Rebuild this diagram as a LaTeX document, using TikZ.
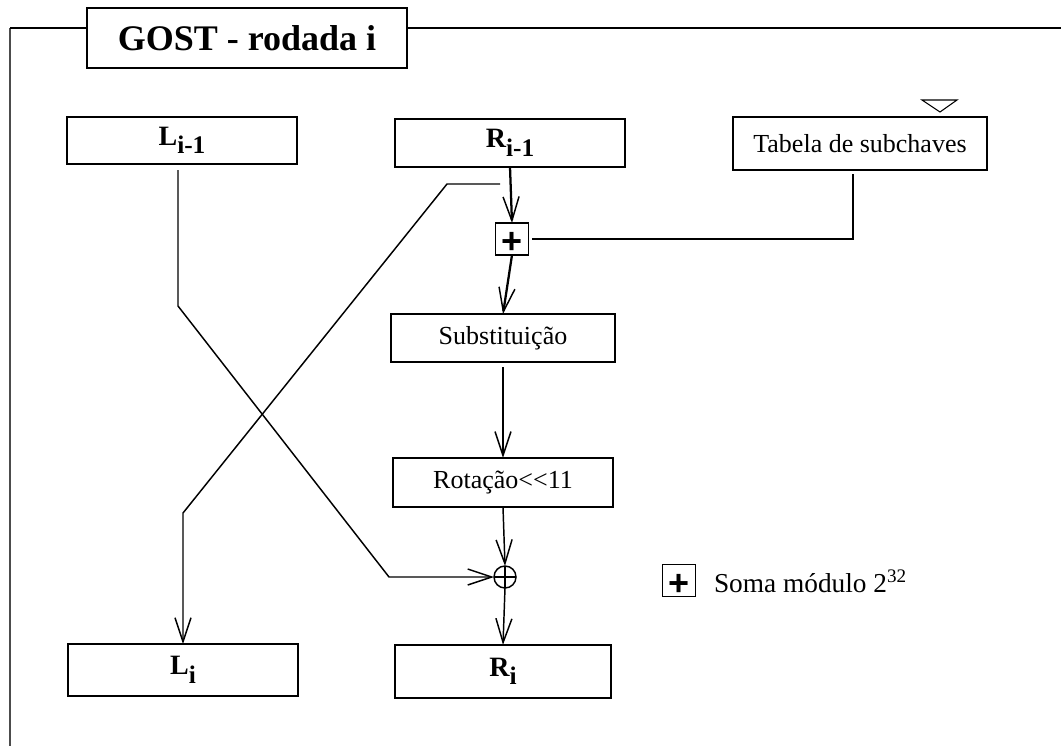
\documentclass[tikz,border=0pt]{standalone}
\usepackage{fontspec}
\setmainfont{Liberation Serif}
\newfontfamily\plusfont{Liberation Sans}
\usetikzlibrary{arrows.meta}

\begin{document}
\begin{tikzpicture}[x=0.75pt,y=-0.75pt,
  every node/.style={inner sep=0pt, outer sep=0pt},
  box/.style={draw, line width=1.1pt, fill=white, font=\fontsize{19.5}{22}\selectfont},
  halfbox/.style={box, font=\bfseries\fontsize{21}{24}\selectfont},
  plusbox/.style={draw, line width=1.1pt, minimum width=24.5pt, minimum height=24pt,
    font=\plusfont\bfseries\fontsize{27}{27}\selectfont},
  wire/.style={line width=1.1pt},
  flow/.style={line width=1.1pt, -{Straight Barb[length=18pt, width=12pt, line width=1.1pt]}},
  bigflow/.style={flow, line width=1.7pt}
]
\useasboundingbox (0,0) rectangle (1061,746);

% frame around the round
\draw[line width=1.1pt, black!70] (10,746) -- (10,28);
\draw[line width=1.1pt] (10,28) -- (87,28);
\draw[line width=1.1pt] (407,28) -- (1061,28);
\node[box, minimum width=240pt, minimum height=45pt,
  font=\bfseries\fontsize{27}{30}\selectfont] (title) at (247,38) {GOST - rodada i};

% halves of the block
\newcommand{\halfname}[2]{#1\raisebox{-0.3em}{\fontsize{19}{20}\selectfont #2}}
\newcommand{\plussign}{\smash{\raisebox{-0.41em}{+}}}
\node[halfbox, minimum width=172.5pt, minimum height=35.25pt] (Lprev) at (182,140.5) {\halfname{L}{i-1}};
\node[halfbox, minimum width=172.5pt, minimum height=36pt] (Rprev) at (510,143) {\halfname{R}{i-1}};
\node[halfbox, minimum width=172.5pt, minimum height=39pt] (Lnext) at (183,670) {\halfname{L}{i}};
\node[halfbox, minimum width=162pt, minimum height=40pt] (Rnext) at (503,671.5) {\halfname{R}{i}};

% round function
\node[box, minimum width=190.5pt, minimum height=40pt] (tab) at (860,143.5) {Tabela de subchaves};
\draw[line width=0.8pt] (922,100) -- (957,100) -- (940,112) -- cycle;
\node[plusbox] (add) at (512,239) {\plussign};
\node[box, minimum width=168pt, minimum height=36pt] (subst) at (503,338) {Substituição};
\node[box, minimum width=165pt, minimum height=37pt] (rot) at (503,482.5) {Rotação<{}<11};
\node[draw, circle, line width=1.1pt, minimum size=16.5pt] (xor) at (505,577) {};
\draw[line width=1.1pt] (xor.north) -- (xor.south) (xor.west) -- (xor.east);

% data flow
\draw[bigflow] (Rprev.south) -- (add.north);
\draw[bigflow] (add.south) -- (subst.north);
\draw[flow, shorten <=4pt] (subst.south) -- (rot.north);
\draw[flow] (rot.south) -- (xor.north);
\draw[flow] (xor.south) -- (Rnext.north);
\draw[wire] ([xshift=-5.25pt, yshift=-3pt]tab.south) |- ([xshift=3pt]add.east);

\coordinate (lbend1) at (178,306);
\coordinate (lbend2) at (389,577);
\draw[flow] ([xshift=-3pt, yshift=-4.5pt]Lprev.south) -- (lbend1) -- (lbend2) -- (xor.west);

\coordinate (rtap) at (500,184);
\coordinate (rbend1) at (447,184);
\coordinate (rbend2) at (183,513);
\draw[flow] (rtap) -- (rbend1) -- (rbend2) -- (Lnext.north);

% legend
\node[plusbox] (legplus) at (679,580.5) {\plussign};
\node[anchor=west, font=\fontsize{20.5}{22}\selectfont] (legtext) at (714,581)
  {Soma módulo 2\textsuperscript{32}};
\end{tikzpicture}
\end{document}
